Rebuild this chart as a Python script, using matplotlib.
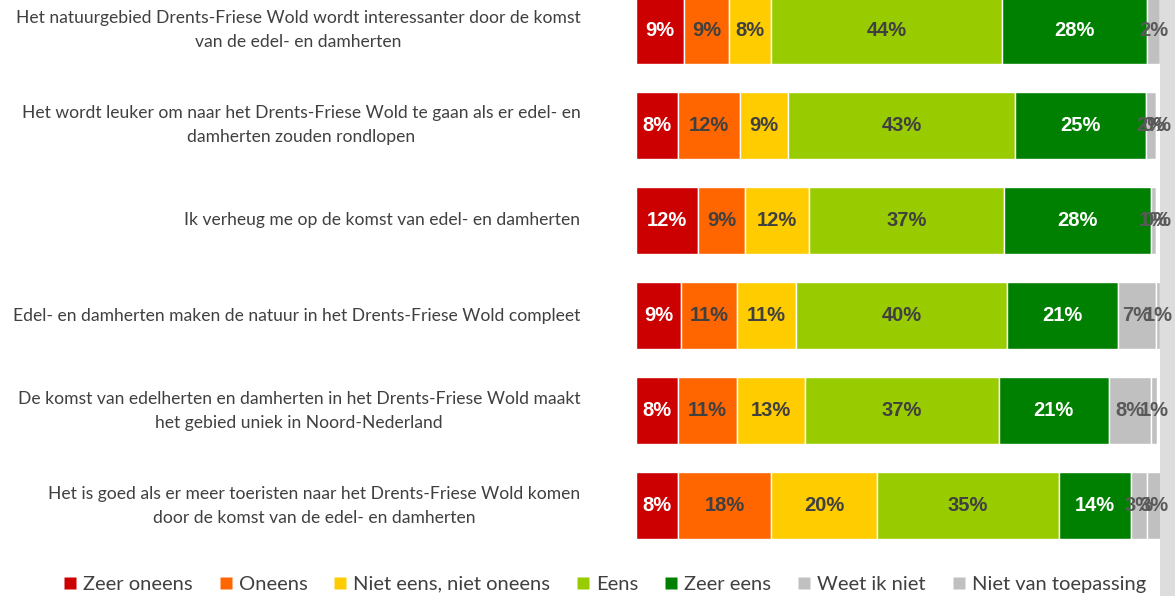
import matplotlib.pyplot as plt
from matplotlib.patches import Rectangle
from matplotlib.lines import Line2D

plt.rcParams['font.family'] = ['Lato', 'DejaVu Sans']

# stellingen (van boven naar beneden)
statements = [
    'Het natuurgebied Drents-Friese Wold wordt interessanter door de komst\nvan de edel- en damherten',
    'Het wordt leuker om naar het Drents-Friese Wold te gaan als er edel- en\ndamherten zouden rondlopen',
    'Ik verheug me op de komst van edel- en damherten',
    'Edel- en damherten maken de natuur in het Drents-Friese Wold compleet',
    'De komst van edelherten en damherten in het Drents-Friese Wold maakt\nhet gebied uniek in Noord-Nederland',
    'Het is goed als er meer toeristen naar het Drents-Friese Wold komen\ndoor de komst van de edel- en damherten',
]

categories = ['Zeer oneens', 'Oneens', 'Niet eens, niet oneens', 'Eens',
              'Zeer eens', 'Weet ik niet', 'Niet van toepassing']

# percentages per categorie, zelfde volgorde als statements
zeer_oneens = [9.2, 8.0, 11.8, 8.6, 8.0, 8.0]
oneens = [8.6, 11.8, 9.0, 10.6, 11.2, 17.8]
neutraal = [8.0, 9.3, 12.2, 11.4, 13.0, 20.2]
eens = [44.0, 43.2, 37.2, 40.2, 37.0, 34.7]
zeer_eens = [27.8, 25.0, 28.0, 21.2, 21.0, 13.7]
weet_niet = [2.4, 1.9, 1.1, 7.2, 8.1, 3.2]
niet_toepassing = [0.0, 0.3, 0.2, 0.8, 1.2, 2.6]

series = [zeer_oneens, oneens, neutraal, eens, zeer_eens, weet_niet, niet_toepassing]
colors = ['#CC0000', '#FF6600', '#FFCC00', '#99CC00', '#008000', '#C0C0C0', '#C0C0C0']
label_colors = ['white', '#404040', '#404040', '#404040', 'white', '#595959', '#595959']

fig = plt.figure(figsize=(11.75, 5.96), dpi=100)
ax = fig.add_axes([636 / 1175, 1 - 553.5 / 596, 524 / 1175, 571 / 596])

rows = range(len(statements))
left = [0.0] * len(statements)
for vals, col, lcol in zip(series, colors, label_colors):
    ax.barh(rows, vals, left=left, height=0.705, color=col,
            edgecolor='white', linewidth=1)
    for i, v in enumerate(vals):
        if v > 0:
            ax.text(left[i] + v / 2, i, f'{v:.0f}%', ha='center', va='center',
                    color=lcol, fontsize=14.5, fontweight='bold',
                    family=['Liberation Sans', 'DejaVu Sans'])
    left = [l + v for l, v in zip(left, vals)]

ax.set_xlim(0, 100)
ax.set_ylim(5.5, -0.5)
ax.axis('off')

for i, s in enumerate(statements):
    ax.text(-10.6, i, s, ha='right', va='center', multialignment='center',
            fontsize=12.6, color='#404040', linespacing=1.6)

# grijze rand rechts
fig.patches.append(Rectangle((1160 / 1175, 0), 15 / 1175, 1, transform=fig.transFigure,
                             facecolor='#DDDDDD', edgecolor='none', zorder=-1))

handles = [Line2D([], [], marker='s', linestyle='none', markersize=9,
                  markerfacecolor=c, markeredgecolor='none') for c in colors]
fig.legend(handles, categories, loc='center', bbox_to_anchor=(605 / 1175, 1 - 584 / 596),
           ncol=7, frameon=False, fontsize=14.5, handlelength=0.6, handletextpad=0.35,
           columnspacing=1.33, labelcolor='#404040')

fig.savefig('out.png', dpi=100)
